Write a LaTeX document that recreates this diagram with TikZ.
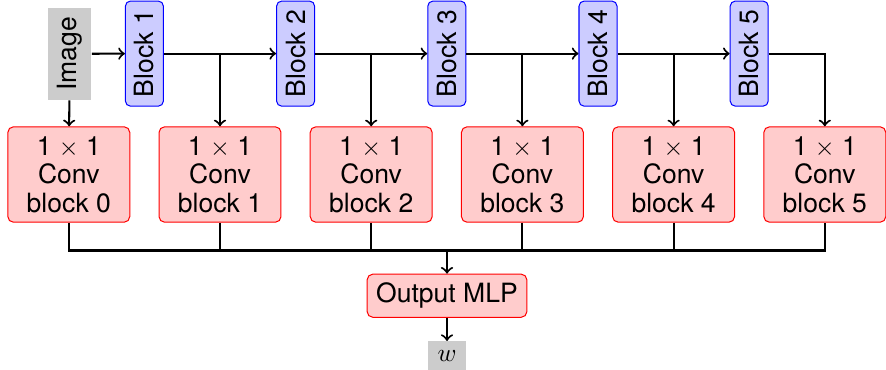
\documentclass[tikz,border=0pt]{standalone}
\usepackage{fontspec}
\setmainfont{TeX Gyre Heros}
\begin{document}
\begin{tikzpicture}[x=0.392pt,y=-0.392pt,
  every node/.style={font=\fontsize{10.4}{11.1}\selectfont, inner sep=0pt, align=center},
  inbox/.style={fill=gray!40, rotate=90, minimum width=36.1pt, minimum height=16.9pt},
  blockbox/.style={draw=blue, fill=blue!20, rounded corners=2pt, line width=0.4pt, rotate=90, minimum width=41.2pt, minimum height=14.9pt},
  convbox/.style={draw=red, fill=red!20, rounded corners=2.2pt, line width=0.4pt, minimum width=47.8pt, minimum height=37.4pt},
  mlpbox/.style={draw=red, fill=red!20, rounded corners=2.2pt, line width=0.4pt, minimum width=62.6pt, minimum height=16.9pt},
  outbox/.style={fill=gray!40, minimum width=14.6pt, minimum height=11pt},
  conn/.style={line width=0.8pt}]
\useasboundingbox (0,0) rectangle (886,369);
\node[inbox] (img) at (69.7,53.8) {Image};
\foreach \i in {1,...,5} {
  \node[blockbox] (b\i) at ({144.4+151.2*(\i-1)},53.6) {Block \i};
}
\foreach \i in {0,...,5} {
  \node[convbox] (c\i) at ({68.8+151.2*\i},174.5) {1 $\times$ 1\\Conv\\block \i};
}
\node[mlpbox] (mlp) at (447,295.7) {Output MLP};
\node[outbox] (w) at (447,355.5) {$w$};
\coordinate (bus) at (447,250.5);
% top chain
\draw[conn,->] (img) -- (b1);
\draw[conn,->] (img) -- (c0);
\foreach \i/\j in {1/2,2/3,3/4,4/5} {
  \draw[conn,->] (b\i) -- (b\j);
  \draw[conn,->] (c\i |- b\i.south) -- (c\i);
}
\draw[conn,->] (b5.south) -| (c5.north);
% bottom bus
\draw[conn] (c0.south) |- (c5.south |- bus) -- (c5.south);
\foreach \i in {1,...,4} {
  \draw[conn] (c\i.south) -- (c\i.south |- bus);
}
\draw[conn,->] (bus) -- (mlp);
\draw[conn,->] (mlp) -- (w);
\end{tikzpicture}
\end{document}
